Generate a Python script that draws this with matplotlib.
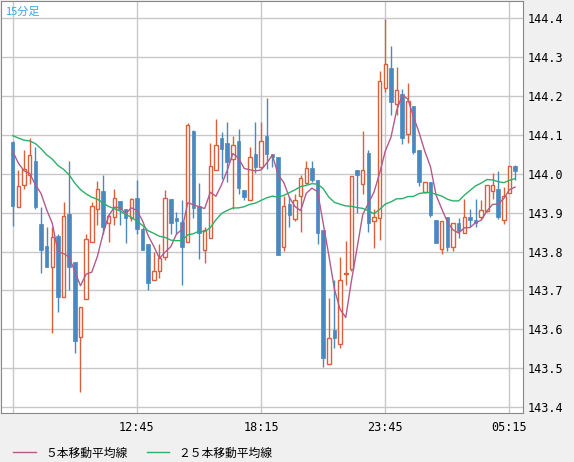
import numpy as np
import pandas as pd
import matplotlib.pyplot as plt
from matplotlib.lines import Line2D

plt.rcParams['font.family'] = ['Noto Sans CJK JP', 'DejaVu Sans']

# 15-minute candles (open, high, low, close)
opens = [144.081, 143.915, 143.972, 143.998, 144.034, 143.870, 143.814, 143.759, 143.839, 143.682,
         143.896, 143.773, 143.581, 143.679, 143.825, 143.910, 143.956, 143.874, 143.889, 143.929,
         143.910, 143.887, 143.938, 143.859, 143.819, 143.727, 143.750, 143.785, 143.936, 143.885,
         143.875, 143.825, 144.111, 143.916, 143.805, 143.836, 144.009, 144.092, 144.079, 144.038,
         144.085, 143.957, 143.932, 144.051, 144.017, 144.098, 144.050, 144.044, 143.812, 143.921,
         143.884, 143.944, 143.977, 144.014, 143.985, 143.855, 143.510, 143.598, 143.562, 143.742,
         143.756, 144.009, 143.974, 144.053, 143.878, 143.886, 144.221, 144.273, 144.179, 144.204,
         144.102, 144.174, 144.061, 143.954, 143.978, 143.881, 143.807, 143.890, 143.811, 143.874,
         143.847, 143.888, 143.881, 143.888, 143.905, 143.956, 143.961, 143.881, 143.950, 144.021]
highs = [144.085, 144.009, 144.060, 144.091, 144.068, 143.915, 143.863, 143.863, 143.844, 143.927,
         144.034, 143.773, 143.658, 143.844, 143.927, 143.981, 143.996, 143.897, 143.962, 143.929,
         143.910, 143.938, 143.983, 143.863, 143.819, 143.799, 143.819, 143.959, 143.936, 143.902,
         143.932, 144.130, 144.113, 143.976, 143.862, 144.079, 144.141, 144.107, 144.132, 144.098,
         144.115, 143.957, 144.068, 144.132, 144.132, 144.195, 144.050, 144.044, 143.944, 143.940,
         143.947, 143.998, 144.032, 144.032, 143.985, 143.855, 143.680, 143.727, 143.785, 143.827,
         143.995, 144.009, 144.110, 144.061, 143.909, 144.264, 144.399, 144.328, 144.274, 144.217,
         144.234, 144.174, 144.061, 143.978, 143.978, 143.881, 143.878, 143.890, 143.874, 143.886,
         143.935, 143.909, 143.935, 143.932, 143.972, 144.003, 144.006, 143.967, 144.021, 144.023]
lows = [143.865, 143.915, 143.962, 143.974, 143.910, 143.745, 143.759, 143.591, 143.645, 143.682,
        143.701, 143.540, 143.440, 143.679, 143.825, 143.868, 143.846, 143.825, 143.868, 143.868,
        143.822, 143.879, 143.846, 143.805, 143.701, 143.727, 143.733, 143.779, 143.846, 143.846,
        143.714, 143.825, 143.885, 143.781, 143.771, 143.836, 144.009, 143.987, 143.979, 143.910,
        143.947, 143.932, 143.932, 144.002, 144.013, 144.013, 144.017, 143.792, 143.802, 143.862,
        143.879, 143.850, 143.974, 143.979, 143.819, 143.504, 143.510, 143.551, 143.551, 143.714,
        143.750, 143.898, 143.948, 143.850, 143.809, 143.830, 144.209, 144.151, 144.151, 144.076,
        144.080, 144.050, 143.969, 143.950, 143.890, 143.821, 143.794, 143.801, 143.801, 143.835,
        143.847, 143.862, 143.862, 143.884, 143.901, 143.935, 143.884, 143.871, 143.950, 143.984]
closes = [143.917, 143.968, 144.013, 144.047, 143.915, 143.805, 143.759, 143.838, 143.682, 143.891,
          143.759, 143.571, 143.658, 143.831, 143.916, 143.962, 143.862, 143.891, 143.938, 143.910,
          143.886, 143.936, 143.858, 143.805, 143.718, 143.749, 143.783, 143.938, 143.874, 143.879,
          143.812, 144.124, 143.913, 143.848, 143.856, 144.021, 144.073, 144.063, 144.030, 144.073,
          143.963, 143.940, 144.044, 144.017, 144.085, 144.051, 144.044, 143.792, 143.918, 143.893,
          143.932, 143.990, 144.015, 143.985, 143.848, 143.526, 143.577, 143.577, 143.728, 143.745,
          143.995, 143.997, 144.009, 143.873, 143.890, 144.238, 144.281, 144.185, 144.215, 144.091,
          144.187, 144.055, 143.978, 143.978, 143.894, 143.821, 143.878, 143.811, 143.874, 143.854,
          143.888, 143.881, 143.873, 143.907, 143.972, 143.972, 143.888, 143.942, 144.021, 144.006]
# closes before the visible window (needed to start the moving averages)
prior_closes = [144.12, 144.15, 144.10, 144.08, 144.13, 144.16, 144.11, 144.09, 144.14, 144.12,
                144.10, 144.07, 144.11, 144.13, 144.09, 144.10, 144.12, 144.08, 144.06, 144.10,
                144.12, 144.11, 144.08, 144.06]

tick_idx = [22, 44, 66, 88]
tick_labels = ['12:45', '18:15', '23:45', '05:15']
y_ticks = [143.4, 143.5, 143.6, 143.7, 143.8, 143.9, 144.0, 144.1, 144.2, 144.3, 144.4]

up_col = '#d9603b'
down_col = '#4a89c0'
ma5_col = '#b45a8c'
ma25_col = '#2bb06a'

all_close = pd.Series(prior_closes + closes)
ma5 = all_close.rolling(5).mean().values[len(prior_closes):]
ma25 = all_close.rolling(25).mean().values[len(prior_closes):]

fig = plt.figure(figsize=(5.74, 4.62), dpi=100, facecolor='#f0f0f0')
ax = fig.add_axes([1 / 574, 1 - 413 / 462, 522 / 574, 412 / 462])
ax.set_facecolor('white')

x = np.arange(len(closes))
w = 0.62
for i in x:
    o, h, l, c = opens[i], highs[i], lows[i], closes[i]
    if c >= o:
        ax.vlines(i, l, o, color=up_col, lw=1, zorder=3)
        ax.vlines(i, c, h, color=up_col, lw=1, zorder=3)
        ax.add_patch(plt.Rectangle((i - w / 2, o), w, max(c - o, 0.001), facecolor='white',
                                   edgecolor=up_col, lw=1, zorder=3))
    else:
        ax.vlines(i, l, h, color=down_col, lw=1, zorder=3)
        ax.add_patch(plt.Rectangle((i - w / 2, c), w, max(o - c, 0.001), facecolor=down_col,
                                   edgecolor=down_col, lw=0.5, zorder=3))

ax.plot(x, ma5, color=ma5_col, lw=1, zorder=4)
ax.plot(x, ma25, color=ma25_col, lw=1, zorder=4)

ax.set_xlim(-2.08, 90.4)
ax.set_ylim(143.385, 144.444)
ax.set_xticks([0] + tick_idx)
ax.set_xticklabels([''] + tick_labels, fontsize=8.5, family='DejaVu Sans Mono')
ax.set_yticks(y_ticks)
ax.set_yticklabels([f'{v:.1f}' for v in y_ticks], fontsize=8.5, family='DejaVu Sans Mono')
ax.yaxis.tick_right()
ax.tick_params(length=0, pad=6)
ax.tick_params(axis='y', pad=3)
ax.grid(True, color='#c8c8c8', lw=1)
ax.set_axisbelow(True)
for s in ax.spines.values():
    s.set_color('#888888')

ax.text(0.008, 0.985, '15分足', transform=ax.transAxes, color='#3aa6dc', fontsize=8,
        va='top', ha='left')

handles = [Line2D([], [], color=ma5_col, lw=1), Line2D([], [], color=ma25_col, lw=1)]
fig.legend(handles, ['５本移動平均線', '２５本移動平均線'], loc='center left',
           bbox_to_anchor=(0.005, 1 - 453 / 462), ncol=2, frameon=False, fontsize=8.5,
           handlelength=1.9, columnspacing=1.6, handletextpad=0.8)

fig.savefig('out.png', dpi=100, facecolor=fig.get_facecolor())
